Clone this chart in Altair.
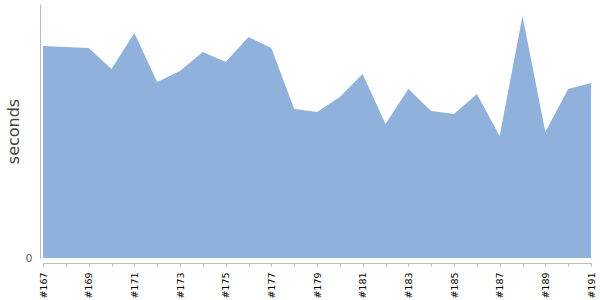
import altair as alt
import pandas as pd

builds = [f"#{n}" for n in range(167, 192)]
seconds = [21.2, 21.1, 21.0, 18.9, 22.5, 17.6, 18.7, 20.6, 19.6, 22.1,
           21.0, 14.9, 14.6, 16.1, 18.4, 13.4, 16.9, 14.7, 14.4, 16.4,
           12.2, 24.2, 12.6, 16.9, 17.5]

df = pd.DataFrame({"build": builds, "seconds": seconds})

chart = alt.Chart(df).mark_area(color="#8fb1db", opacity=1, line=False).encode(
    x=alt.X("build:N", sort=builds, title=None,
            scale=alt.Scale(type="point", padding=0),
            axis=alt.Axis(labelAngle=-90, offset=5, domainColor="#bbbbbb",
                          tickColor="#bbbbbb", tickSize=3, labelPadding=6,
                          labelFont="DejaVu Sans", labelFontSize=9.5, labelColor="#000000",
                          labelExpr="parseInt(substring(datum.value,1)) % 2 == 1 ? datum.value : ''",
                          grid=False)),
    y=alt.Y("seconds:Q", title="seconds",
            scale=alt.Scale(domain=[0, 25.4], nice=False, zero=True),
            axis=alt.Axis(values=[0], ticks=False, grid=False, offset=3,
                          domainColor="#bbbbbb", labelPadding=8,
                          labelFont="DejaVu Sans", labelFontSize=11, labelColor="#666666",
                          titleFont="DejaVu Sans", titleFontSize=16, titleFontWeight="normal",
                          titleColor="#444444", titlePadding=4)),
).properties(
    width=548, height=254,
    autosize=alt.AutoSizeParams(type="none"),
    padding={"left": 43, "top": 4, "right": 9, "bottom": 42},
).configure_view(stroke=None)

chart.save("out.html", embed_options={"renderer": "svg", "actions": False})
